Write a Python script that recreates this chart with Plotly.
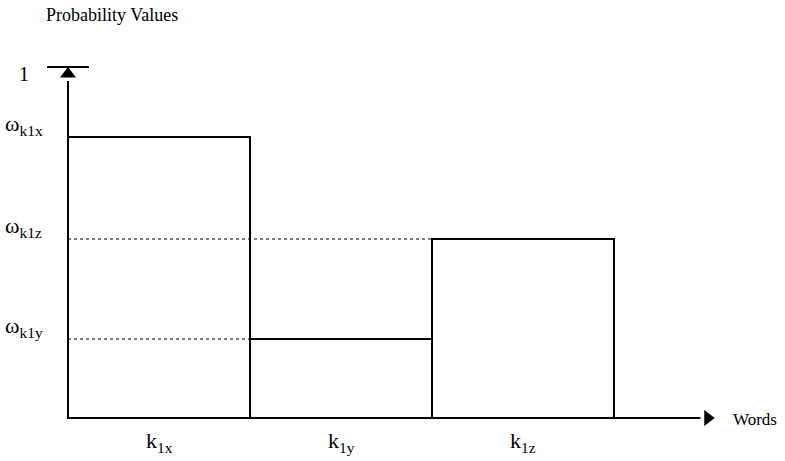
import plotly.graph_objects as go

# ---- data ----
categories = ["k<sub>1x</sub>", "k<sub>1y</sub>", "k<sub>1z</sub>"]
prob_values = [0.80, 0.225, 0.51]
omega_labels = ["ω<sub>k1x</sub>", "ω<sub>k1y</sub>", "ω<sub>k1z</sub>"]
y_title = "Probability Values"
x_title = "Words"
top_tick = 1

FONT = "Liberation Serif"
W, H = 785, 461
xpos = list(range(len(categories)))

fig = go.Figure()

fig.add_trace(go.Bar(
    x=xpos, y=prob_values, width=1.0,
    marker=dict(color="white", line=dict(color="black", width=2)),
    showlegend=False, hoverinfo="skip",
))

# dotted guide lines from the y axis to the left edge of each later bar
for i in range(1, len(categories)):
    fig.add_trace(go.Scatter(
        x=[-0.5, i - 0.5], y=[prob_values[i], prob_values[i]],
        mode="lines", line=dict(color="black", width=1, dash="dot"),
        showlegend=False, hoverinfo="skip",
    ))

# axis lines
x_end = 2.975
fig.add_trace(go.Scatter(x=[-0.5, -0.5], y=[0, 0.96], mode="lines",
                         line=dict(color="black", width=2), showlegend=False, hoverinfo="skip"))
fig.add_trace(go.Scatter(x=[-0.5, x_end], y=[0, 0], mode="lines",
                         line=dict(color="black", width=2), showlegend=False, hoverinfo="skip"))
# arrow heads
fig.add_trace(go.Scatter(x=[-0.5], y=[0.98], mode="markers",
                         marker=dict(symbol="triangle-up", size=14, color="black"),
                         showlegend=False, hoverinfo="skip"))
fig.add_trace(go.Scatter(x=[x_end + 0.04], y=[0], mode="markers",
                         marker=dict(symbol="triangle-right", size=14, color="black"),
                         showlegend=False, hoverinfo="skip"))
# top tick line at 1
fig.add_trace(go.Scatter(x=[-0.615, -0.385], y=[top_tick, top_tick], mode="lines",
                         line=dict(color="black", width=2), showlegend=False, hoverinfo="skip"))

ann = []
ann.append(dict(x=24 / W, y=top_tick, xref="paper", yref="y", text=str(top_tick), showarrow=False,
                xanchor="center", font=dict(family=FONT, size=20, color="black"), yshift=-7))
for lab, v in zip(omega_labels, prob_values):
    ann.append(dict(x=3 / W, y=v, xref="paper", yref="y", text=lab, showarrow=False,
                    xanchor="left", yshift=12,
                    font=dict(family=FONT, size=22, color="black")))
for xi, lab in zip(xpos, categories):
    ann.append(dict(x=xi, y=0, xref="x", yref="y", text=lab, showarrow=False,
                    yshift=-24, font=dict(family=FONT, size=22, color="black")))
ann.append(dict(x=44 / W, y=1 - 15 / H, xref="paper", yref="paper", text=y_title,
                showarrow=False, xanchor="left", yanchor="middle",
                font=dict(family=FONT, size=18, color="black")))
ann.append(dict(x=731 / W, y=1 - 419 / H, xref="paper", yref="paper", text=x_title,
                showarrow=False, xanchor="left", yanchor="middle",
                font=dict(family=FONT, size=17, color="black")))

x0 = -0.5 - 68 / 182
x1 = -0.5 + (W - 68) / 182
y0 = -(H - 418) / 351
y1 = 418 / 351

fig.update_layout(
    width=W, height=H,
    margin=dict(l=0, r=0, t=0, b=0),
    paper_bgcolor="white", plot_bgcolor="white",
    xaxis=dict(range=[x0, x1], visible=False, fixedrange=True),
    yaxis=dict(range=[y0, y1], visible=False, fixedrange=True),
    bargap=0,
    annotations=ann,
)

fig.write_html(
    "out.html",
    config={"displayModeBar": False},
    post_script="document.body.style.margin='0';document.body.style.overflow='hidden';",
)
